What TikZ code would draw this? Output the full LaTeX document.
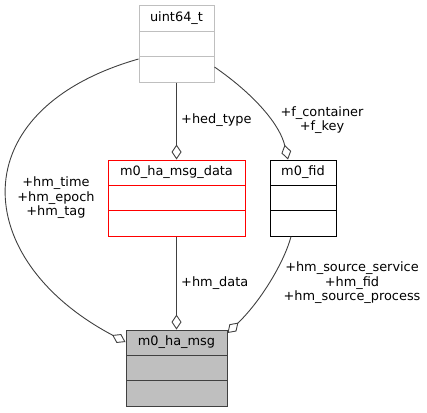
\documentclass[tikz,border=0pt]{standalone}
\usepackage{fontspec}
\setmainfont{DejaVu Sans}
\usetikzlibrary{arrows.meta}
\definecolor{edgegray}{RGB}{64,64,64}
\definecolor{boxgray}{RGB}{191,191,191}
\definecolor{boxred}{RGB}{255,0,0}

\tikzset{
  classbox/.style={draw=#1, line width=1pt, minimum height=76pt, inner sep=0pt,
    path picture={
      \draw[#1, line width=1pt]
        ([yshift=-25.3pt]path picture bounding box.north west) -- ([yshift=-25.3pt]path picture bounding box.north east)
        ([yshift=-50.6pt]path picture bounding box.north west) -- ([yshift=-50.6pt]path picture bounding box.north east);
    }},
  boxtitle/.style={inner sep=0pt},
  aggr/.style={draw=edgegray, line width=0.9pt, -{Diamond[open, length=15pt, width=10pt]}},
  lbl/.style={align=center, inner sep=0pt},
}

\begin{document}
\begin{tikzpicture}[x=1pt,y=-1pt,font=\fontsize{12.9}{14.6}\selectfont]
    \useasboundingbox (0,0) rectangle (427,412);

    % classes
    \node[classbox=boxgray, minimum width=75pt] (uint) at (176.5,44) {};
    \node[boxtitle] (uinttitle) at ([yshift=-12.7pt]uint.north) {uint64\_t};

    \node[classbox=boxred, minimum width=137pt] (data) at (176.5,198) {};
    \node[boxtitle] (datatitle) at ([yshift=-12.7pt]data.north) {m0\_ha\_msg\_data};

    \node[classbox=black, minimum width=66pt] (fid) at (303,198) {};
    \node[boxtitle] (fidtitle) at ([yshift=-12.7pt]fid.north) {m0\_fid};

    \node[classbox=edgegray, fill=boxgray, minimum width=101pt] (msg) at (176.5,368) {};
    \node[boxtitle] (msgtitle) at ([yshift=-12.7pt]msg.north) {m0\_ha\_msg};

    % members
    \draw[aggr] (uint.south) -- (data.north);
    \draw[aggr] (data.south) -- (msg.north);
    \draw[aggr] ([yshift=-15pt]uint.west) .. controls (-40,110) and (-30,260) .. ([yshift=26pt]msg.west);
    \draw[aggr] ([yshift=-23pt]uint.east) .. controls (255,95) and (280,125) .. ([xshift=-15pt]fid.north);
    \draw[aggr] ([xshift=-12pt]fid.south) .. controls (285,260) and (262,300) .. ([yshift=35pt]msg.east);

    % member names
    \node[lbl, anchor=west] (hedtype) at (181,120) {+hed\_type};
    \node[lbl, anchor=west] (hmdata) at (181,283) {+hm\_data};
    \node[lbl] (hmtime) at (56,198) {+hm\_time\\+hm\_epoch\\+hm\_tag};
    \node[lbl] (fkey) at (322,120) {+f\_container\\+f\_key};
    \node[lbl] (hmfid) at (352,283) {+hm\_source\_service\\+hm\_fid\\+hm\_source\_process};
\end{tikzpicture}
\end{document}
